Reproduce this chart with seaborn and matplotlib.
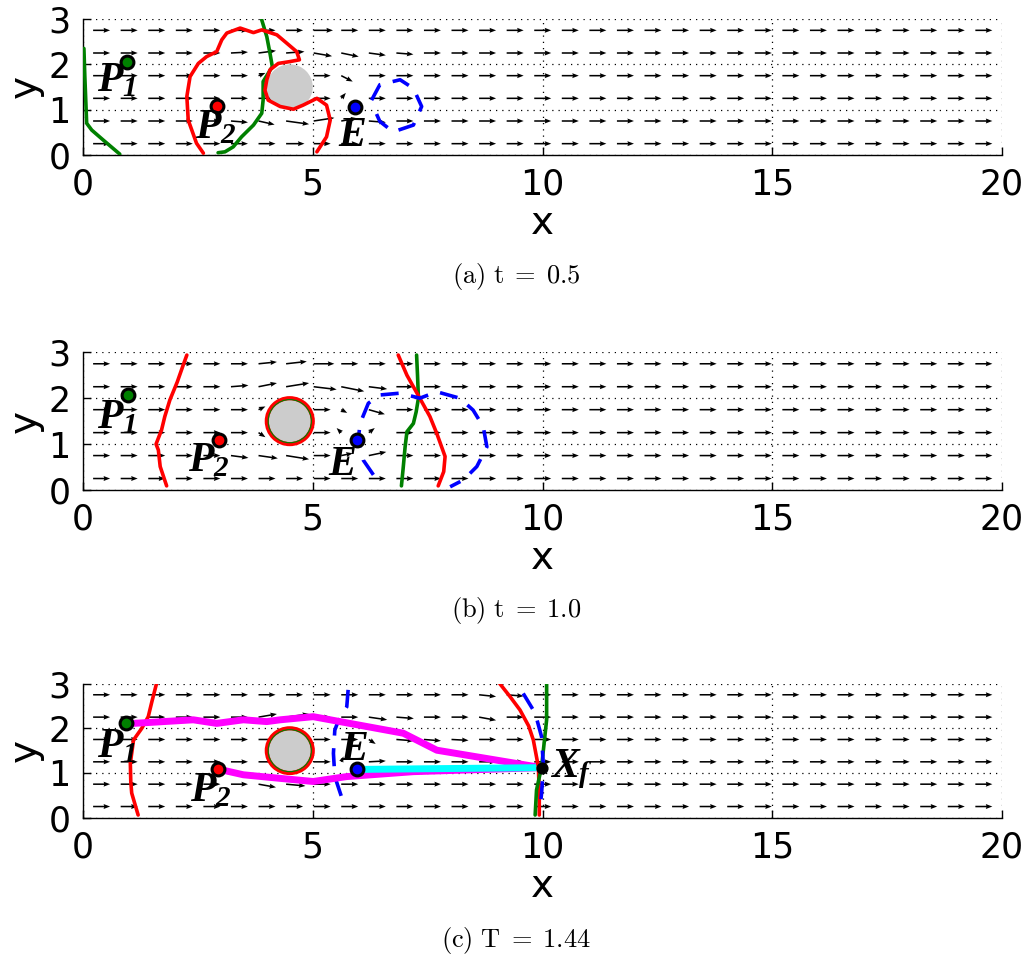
import numpy as np
import matplotlib
matplotlib.use("Agg")
import matplotlib.pyplot as plt
import seaborn as sns
from matplotlib.patches import Circle

# ---------------- data ----------------
x_ticks = [0, 5, 10, 15, 20]
y_ticks = [0, 1, 2, 3]
captions = ["(a)\\ t\\;=\\;0.5", "(b)\\ t\\;=\\;1.0", "(c)\\ T\\;=\\;1.44"]

# quiver grid (arrow bases) and free-stream arrow
grid_x = [0.22 + 0.6 * k for k in range(33)]
grid_y = [0.25, 0.75, 1.25, 1.75, 2.25, 2.75]
free_u = 0.37
free_v = 0.0
# local deviations: (column, row, u, v)
flow_a = [(5, 4, 0.37, 0.02), (6, 4, 0.38, 0.05), (7, 4, 0.40, 0.03), (8, 4, 0.40, -0.07),
          (9, 4, 0.38, -0.08), (10, 4, 0.37, -0.05), (11, 4, 0.37, -0.03), (8, 5, 0.42, 0.0),
          (6, 3, 0.15, 0.06), (9, 3, 0.25, -0.13), (9, 2, 0.10, 0.12),
          (5, 1, 0.37, -0.03), (6, 1, 0.35, -0.08), (7, 1, 0.50, -0.07), (8, 1, 0.45, 0.07),
          (9, 1, 0.35, 0.06), (10, 1, 0.37, -0.03), (7, 0, 0.40, 0.0)]
flow_b = [(6, 5, 0.40, 0.04), (7, 5, 0.45, 0.05), (8, 5, 0.45, 0.0),
          (5, 4, 0.38, 0.03), (6, 4, 0.40, 0.08), (7, 4, 0.50, 0.08), (8, 4, 0.50, -0.06),
          (9, 4, 0.50, -0.10), (10, 4, 0.40, -0.05),
          (6, 3, 0.15, 0.07), (9, 3, 0.13, -0.07), (10, 3, 0.35, -0.10),
          (6, 2, 0.15, -0.10), (9, 2, -0.10, 0.10), (10, 2, 0.13, 0.10),
          (5, 1, 0.38, -0.05), (6, 1, 0.42, -0.06), (7, 1, 0.50, -0.08), (9, 1, 0.25, 0.05),
          (10, 1, 0.38, 0.08)]
flow_c = [(6, 4, 0.40, 0.07), (7, 4, 0.50, 0.07), (10, 4, 0.40, -0.06), (11, 4, 0.38, -0.03),
          (14, 4, 0.37, -0.07), (14, 5, 0.37, -0.04), (15, 5, 0.37, -0.03),
          (10, 3, 0.15, -0.10), (11, 3, 0.38, -0.03), (12, 3, 0.37, -0.03), (13, 3, 0.37, -0.02),
          (9, 2, 0.05, 0.12), (10, 2, 0.37, 0.02),
          (6, 1, 0.38, -0.07), (7, 1, 0.42, -0.04)]

obstacle_center = (4.5, 1.5)
obstacle_radius = 0.5

# panel (a) t = 0.5
P1_a = (0.95, 2.06); P2_a = (2.91, 1.07); E_a = (5.93, 1.06)
green1_a_x = [0.02, 0.04, 0.08, 0.19, 0.44, 0.80]
green1_a_y = [2.35, 1.73, 0.70, 0.55, 0.33, 0.02]
red_a_x = [2.62, 2.47, 2.29, 2.26, 2.33, 2.51, 2.69, 2.91, 3.02, 3.13, 3.42, 3.71, 3.89, 4.22,
           4.43, 4.65, 4.71, 4.50, 4.25, 4.07, 4.00, 3.96, 4.03, 4.29, 4.58, 4.79, 5.09, 5.30,
           5.38, 5.30, 5.09]
red_a_y = [0.04, 0.26, 0.77, 1.29, 1.73, 2.02, 2.17, 2.28, 2.54, 2.69, 2.80, 2.70, 2.76, 2.65,
           2.47, 2.28, 2.10, 2.06, 2.02, 1.88, 1.66, 1.43, 1.21, 1.07, 1.01, 1.10, 1.25, 1.10,
           0.77, 0.40, 0.07]
green2_a_x = [3.89, 4.00, 4.07, 4.12, 4.03, 3.92, 3.92, 3.89, 3.71, 3.45, 3.27, 3.09, 2.94]
green2_a_y = [2.98, 2.61, 2.24, 1.95, 1.80, 1.62, 1.21, 0.92, 0.66, 0.40, 0.18, 0.07, 0.05]
blue_a_x = [6.28, 6.46, 6.90, 7.19, 7.37, 7.19, 6.75, 6.46, 6.28]
blue_a_y = [1.21, 1.55, 1.66, 1.47, 1.07, 0.66, 0.51, 0.74, 1.15]

# panel (b) t = 1.0
P1_b = (0.99, 2.06); P2_b = (2.97, 1.09); E_b = (5.96, 1.09)
redL_b_x = [2.26, 2.18, 2.05, 1.89, 1.78, 1.71, 1.59, 1.64, 1.68, 1.82]
redL_b_y = [2.94, 2.72, 2.35, 1.96, 1.60, 1.31, 1.00, 0.87, 0.51, 0.09]
green_b_x = [7.26, 7.28, 7.30, 7.25, 7.19, 7.05, 7.01, 6.97, 6.93]
green_b_y = [2.94, 2.50, 2.00, 1.70, 1.45, 1.27, 0.94, 0.50, 0.09]
redR_b_x = [6.86, 7.05, 7.33, 7.55, 7.70, 7.88, 7.85, 7.73]
redR_b_y = [2.94, 2.50, 2.00, 1.60, 1.23, 0.73, 0.40, 0.09]
blue_b_x = [6.32, 6.10, 5.99, 6.03, 6.21, 6.46, 6.90, 7.33, 7.70, 8.20, 8.49, 8.71, 8.79, 8.57,
            8.28, 7.99]
blue_b_y = [0.33, 0.65, 1.09, 1.45, 1.89, 2.07, 2.11, 2.00, 2.14, 2.00, 1.74, 1.38, 0.94, 0.51,
            0.22, 0.07]

# panel (c) T = 1.44
P1_c = (0.93, 2.12); P2_c = (2.93, 1.09); E_c = (5.97, 1.08); Xf_c = (9.98, 1.12)
redL_c_x = [1.60, 1.50, 1.42, 1.28, 1.10, 1.03, 1.04, 1.06, 1.20]
redL_c_y = [3.00, 2.60, 2.26, 2.00, 1.74, 1.22, 0.80, 0.55, 0.06]
redR_c_x = [9.07, 9.30, 9.51, 9.70, 9.80, 9.91, 9.93, 9.93]
redR_c_y = [3.00, 2.70, 2.41, 2.05, 1.74, 1.14, 0.55, 0.06]
green_c_x = [10.09, 10.09, 10.02, 9.98, 9.87, 9.84]
green_c_y = [3.00, 2.19, 1.52, 1.14, 0.62, 0.06]
blueL_c_x = [5.77, 5.74, 5.55, 5.48, 5.45, 5.48, 5.66]
blueL_c_y = [2.86, 2.48, 2.15, 1.96, 1.44, 0.92, 0.36]
blueR_c_x = [9.58, 9.84, 9.98, 10.02, 9.98, 9.95]
blueR_c_y = [2.78, 2.34, 1.81, 1.14, 0.55, 0.25]
magT_c_x = [0.93, 1.10, 2.40, 2.91, 3.49, 4.00, 4.29, 5.01, 6.97, 7.70, 9.98]
magT_c_y = [2.12, 2.11, 2.19, 2.11, 2.19, 2.15, 2.19, 2.26, 1.89, 1.51, 1.12]
magB_c_x = [2.93, 3.49, 4.29, 5.01, 5.74, 7.19, 9.98]
magB_c_y = [1.09, 0.96, 0.88, 0.81, 0.92, 1.03, 1.12]
cyan_c_x = [5.97, 9.98]
cyan_c_y = [1.08, 1.12]

# label anchor points (baseline-left)
lab_a = {"P1": (0.30, 1.40), "P2": (2.44, 0.37), "E": (5.56, 0.20)}
lab_b = {"P1": (0.30, 1.34), "P2": (2.29, 0.40), "E": (5.34, 0.33)}
lab_c = {"P1": (0.30, 1.35), "P2": (2.33, 0.36), "E": (5.59, 1.29), "Xf": (10.16, 0.90)}

# ---------------- style ----------------
sns.set_theme(style="white")
plt.rcParams["font.family"] = ["DejaVu Sans"]
for key in ["text.color", "axes.labelcolor", "xtick.color", "ytick.color", "axes.edgecolor"]:
    plt.rcParams[key] = "black"
plt.rcParams["mathtext.fontset"] = "custom"
plt.rcParams["mathtext.it"] = "Liberation Serif:bold:italic"
plt.rcParams["mathtext.rm"] = "Liberation Serif:bold:italic"
plt.rcParams["mathtext.bf"] = "Liberation Serif:bold:italic"

GREEN = (0.0, 0.5, 0.0)
RED = (1.0, 0.0, 0.0)
BLUE = (0.0, 0.0, 1.0)
MAG = (1.0, 0.0, 1.0)
CYAN = (0.0, 1.0, 1.0)
GRAY = (0.8, 0.8, 0.8)

W, H = 1032, 960
fig = plt.figure(figsize=(W / 100, H / 100), dpi=100)

panel_px = [(19, 155), (352.3, 490), (683.6, 817.7)]
caption_y = [277, 610, 940]


def make_field(flow):
    X, Y = np.meshgrid(grid_x, grid_y)
    U = np.full(X.shape, free_u)
    V = np.full(X.shape, free_v)
    for k, j, u, v in flow:
        U[j, k] = u
        V[j, k] = v
    return X, Y, U, V


def line(ax, xs, ys, color, lw, z=3, dashed=False):
    if dashed:
        ax.plot(xs, ys, color=color, lw=lw, ls=(0, (5, 3.5)), zorder=z,
                solid_capstyle="butt", dash_capstyle="butt")
    else:
        sns.lineplot(x=xs, y=ys, sort=False, estimator=None, color=color, lw=lw,
                     ax=ax, zorder=z)


def marker(ax, p, color, z=6):
    sns.scatterplot(x=[p[0]], y=[p[1]], color=color, s=85, edgecolor="black",
                    linewidth=2.2, ax=ax, zorder=z, legend=False)


def label(ax, pos, txt, size=30):
    ax.text(pos[0], pos[1], txt, fontsize=size, ha="left", va="baseline", zorder=7,
            color="black")


axes = []
for i, (top, bot) in enumerate(panel_px):
    ax = fig.add_axes([83 / W, 1 - bot / H, 919 / W, (bot - top) / H])
    axes.append(ax)
    ax.set_xlim(0, 20)
    ax.set_ylim(0, 3)
    ax.set_xticks(x_ticks)
    ax.set_yticks(y_ticks)
    ax.tick_params(axis="both", which="major", labelsize=25, direction="in", length=6,
                   width=1, color="black", labelcolor="black", pad=9, bottom=True, left=True)
    ax.grid(True, color="black", linestyle=(0, (1, 4)), lw=0.9)
    ax.set_axisbelow(True)
    for s in ["top", "right"]:
        ax.spines[s].set_visible(False)
    for s in ["left", "bottom"]:
        ax.spines[s].set_color("black")
        ax.spines[s].set_linewidth(1.0)
    ax.set_xlabel("x", fontsize=28, labelpad=2, color="black")
    ax.set_ylabel("y", fontsize=28, labelpad=3, color="black")
    ax.set_facecolor("white")
    fig.text(0.5, 1 - caption_y[i] / H, r"$\mathrm{" + captions[i] + "}$", fontsize=19,
             ha="center", va="center", math_fontfamily="cm", color="black")

fields = [flow_a, flow_b, flow_c]
for ax, flow in zip(axes, fields):
    X, Y, U, V = make_field(flow)
    ax.quiver(X, Y, U, V, angles="xy", scale_units="xy", scale=1, color="black",
              width=0.0017, headwidth=3.2, headlength=4.2, headaxislength=3.8, zorder=2)

LW = 2.6
# panel a
ax = axes[0]
ax.add_patch(Circle(obstacle_center, obstacle_radius, facecolor=GRAY, edgecolor="none", zorder=4))
line(ax, green1_a_x, green1_a_y, GREEN, LW)
line(ax, red_a_x, red_a_y, RED, LW, z=4.5)
line(ax, green2_a_x, green2_a_y, GREEN, LW)
line(ax, blue_a_x, blue_a_y, BLUE, LW, dashed=True)
marker(ax, P1_a, GREEN); marker(ax, P2_a, RED); marker(ax, E_a, BLUE)
label(ax, lab_a["P1"], r"$P_1$"); label(ax, lab_a["P2"], r"$P_2$"); label(ax, lab_a["E"], r"$E$")

# panel b
ax = axes[1]
ax.add_patch(Circle(obstacle_center, obstacle_radius, facecolor=GRAY, edgecolor=RED, lw=3, zorder=4))
ax.add_patch(Circle(obstacle_center, obstacle_radius - 0.03, facecolor="none", edgecolor=GREEN, lw=0.8, zorder=4))
line(ax, redL_b_x, redL_b_y, RED, LW)
line(ax, green_b_x, green_b_y, GREEN, LW)
line(ax, redR_b_x, redR_b_y, RED, LW)
line(ax, blue_b_x, blue_b_y, BLUE, LW, dashed=True)
marker(ax, P1_b, GREEN); marker(ax, P2_b, RED); marker(ax, E_b, BLUE)
label(ax, lab_b["P1"], r"$P_1$"); label(ax, lab_b["P2"], r"$P_2$"); label(ax, lab_b["E"], r"$E$")

# panel c
ax = axes[2]
ax.add_patch(Circle(obstacle_center, obstacle_radius, facecolor=GRAY, edgecolor=RED, lw=3, zorder=4))
ax.add_patch(Circle(obstacle_center, obstacle_radius - 0.03, facecolor="none", edgecolor=GREEN, lw=0.8, zorder=4))
line(ax, redL_c_x, redL_c_y, RED, LW)
line(ax, blueL_c_x, blueL_c_y, BLUE, LW, dashed=True)
line(ax, magT_c_x, magT_c_y, MAG, 5, z=4)
line(ax, magB_c_x, magB_c_y, MAG, 5, z=4)
line(ax, cyan_c_x, cyan_c_y, CYAN, 5, z=4)
line(ax, redR_c_x, redR_c_y, RED, LW, z=4.2)
line(ax, green_c_x, green_c_y, GREEN, LW, z=4.3)
line(ax, blueR_c_x, blueR_c_y, BLUE, LW, z=4.4, dashed=True)
marker(ax, P1_c, GREEN); marker(ax, P2_c, RED); marker(ax, E_c, BLUE)
sns.scatterplot(x=[Xf_c[0]], y=[Xf_c[1]], color="black", s=60, edgecolor="black",
                linewidth=1, ax=ax, zorder=6, legend=False)
label(ax, lab_c["P1"], r"$P_1$"); label(ax, lab_c["P2"], r"$P_2$"); label(ax, lab_c["E"], r"$E$")
label(ax, lab_c["Xf"], r"$X_f$")

fig.savefig("out.png", dpi=100, facecolor="white")
